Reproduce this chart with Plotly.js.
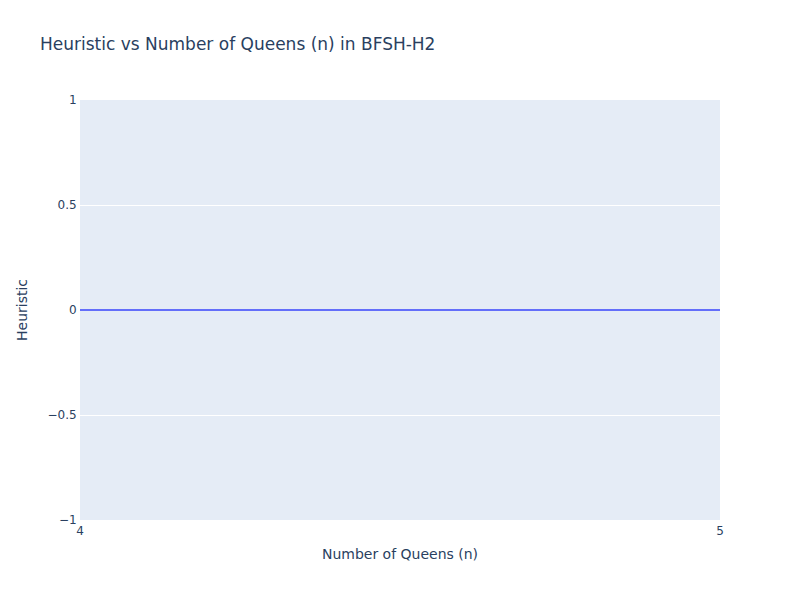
<!DOCTYPE html>
<html>
<head>
<meta charset="utf-8">
<script src="https://cdn.plot.ly/plotly-3.0.1.min.js"></script>
<style>html,body{margin:0;padding:0;}</style>
</head>
<body>
<div id="chart" style="width:800px;height:600px;"></div>
<script>
const queens = ['4', '5'];
const heuristic = [0, 0];

const axisStyle = {
  gridcolor: 'white',
  linecolor: 'white',
  ticks: '',
  zerolinecolor: 'white',
  zerolinewidth: 2,
  automargin: true,
  gridwidth: 1
};

Plotly.newPlot('chart', [{
  x: queens,
  y: heuristic,
  type: 'scatter',
  mode: 'lines',
  line: {color: '#636efa'}
}], {
  width: 800,
  height: 600,
  font: {family: '"DejaVu Sans", Verdana, sans-serif', color: '#2a3f5f'},
  title: {text: 'Heuristic vs Number of Queens (n) in BFSH-H2', x: 0.05, font: {size: 17}},
  xaxis: Object.assign({title: {text: 'Number of Queens (n)', standoff: 11}, type: 'category'}, axisStyle),
  yaxis: Object.assign({title: {text: 'Heuristic', standoff: 16}}, axisStyle),
  plot_bgcolor: '#E5ECF6',
  paper_bgcolor: 'white',
  showlegend: false
}, {displayModeBar: false});
</script>
</body>
</html>
